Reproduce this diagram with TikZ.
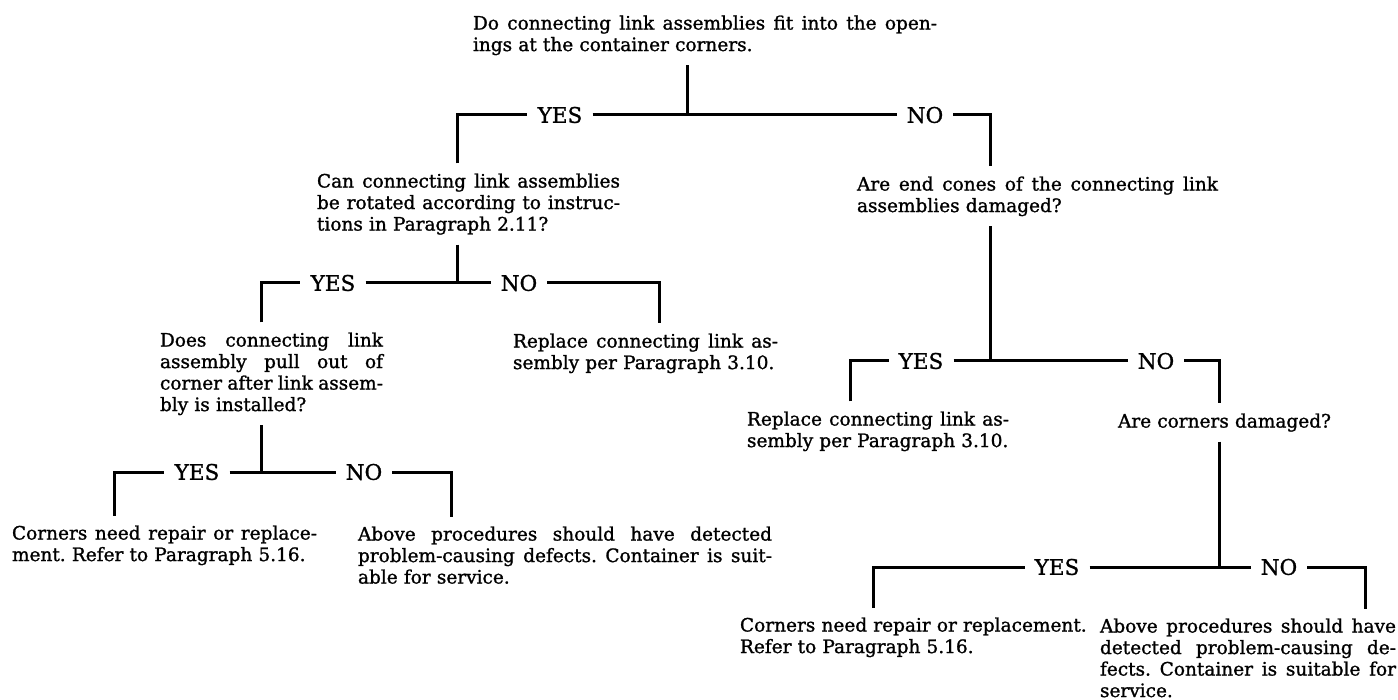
\documentclass[tikz,border=0pt]{standalone}
\usepackage{fontspec}
\setmainfont{DejaVu Serif}[RawFeature={embolden=1.2}]
\frenchspacing

% one justified line of a text block, #1 = width of the block
\newcommand*{\jl}[2]{{\spaceskip=0pt\xspaceskip=0pt\makebox[#1][s]{#2}}}

\begin{document}
\begin{tikzpicture}
[
	x=1pt,
	y=-1pt,
	txt/.style={anchor=north west,inner sep=0pt,outer xsep=0pt,outer ysep=10pt,align=left,font=\fontsize{18.5}{21.5}\selectfont},
	lbl/.style={inner xsep=10pt,inner ysep=0pt,font=\fontsize{21.5}{24}\selectfont},
	wire/.style={line width=3pt}
]

	\path[use as bounding box,fill=white] (0,0) rectangle (1398,700);

	% questions
	\node[txt,text width=470pt] (q0) at (473,5.5)
	  {\jl{464pt}{Do connecting link assemblies fit into the open-}\\ings at the container corners.};
	\node[txt,text width=310pt] (q1) at (317,163.5)
	  {\jl{303pt}{Can connecting link assemblies}\\\jl{303pt}{be rotated according to instruc-}\\tions in Paragraph 2.11?};
	\node[txt,text width=370pt] (q2) at (857,166.5)
	  {\jl{361pt}{Are end cones of the connecting link}\\assemblies damaged?};
	\node[txt,text width=230pt] (q3) at (160,322.5)
	  {\jl{223pt}{Does connecting link}\\\jl{223pt}{assembly pull out of}\\\jl{223pt}{corner after link assem-}\\bly is installed?};
	\node[txt,text width=240pt] (q4) at (1118,403.5) {Are corners damaged?};

	% answers
	\node[txt,text width=275pt] (a1) at (513,323.5)
	  {\jl{265pt}{Replace connecting link as-}\\sembly per Paragraph 3.10.};
	\node[txt,text width=275pt] (a2) at (747,401.5)
	  {\jl{262pt}{Replace connecting link as-}\\sembly per Paragraph 3.10.};
	\node[txt,text width=315pt] (a3) at (12,515.5)
	  {\jl{305pt}{Corners need repair or replace-}\\ment. Refer to Paragraph 5.16.};
	\node[txt,text width=425pt] (a4) at (358,516.5)
	  {\jl{414pt}{Above procedures should have detected}\\\jl{414pt}{problem-causing defects. Container is suit-}\\able for service.};
	\node[txt,text width=360pt] (a5) at (740,607.5)
	  {Corners need repair or replacement.\\Refer to Paragraph 5.16.};
	\node[txt,text width=300pt] (a6) at (1100,608.5)
	  {\jl{296pt}{Above procedures should have}\\\jl{296pt}{detected problem-causing de-}\\\jl{296pt}{fects. Container is suitable for}\\service.};

	% branch points
	\coordinate (j0) at (687,115);
	\coordinate (l0) at (457,115);
	\coordinate (r0) at (990,115);
	\coordinate (j1) at (457,283);
	\coordinate (l1) at (261,283);
	\coordinate (r1) at (659,283);
	\coordinate (j2) at (261,472);
	\coordinate (l2) at (114,472);
	\coordinate (r2) at (451,472);
	\coordinate (j3) at (990,361);
	\coordinate (l3) at (850,361);
	\coordinate (r3) at (1219,361);
	\coordinate (j4) at (1219,567);
	\coordinate (l4) at (873,567);
	\coordinate (r4) at (1365,567);

	% yes / no labels
	\node[lbl] (y0) at (560,115) {YES};
	\node[lbl] (n0) at (925,115) {NO};
	\node[lbl] (y1) at (333,283) {YES};
	\node[lbl] (n1) at (519,283) {NO};
	\node[lbl] (y2) at (197,472) {YES};
	\node[lbl] (n2) at (364,472) {NO};
	\node[lbl] (y3) at (921,361) {YES};
	\node[lbl] (n3) at (1156,361) {NO};
	\node[lbl] (y4) at (1057,567) {YES};
	\node[lbl] (n4) at (1279,567) {NO};

	% connectors
	\draw[wire] (q0.south -| j0) -- (j0);
	\draw[wire] (q1.north -| l0) -- (l0) -- (y0.west);
	\draw[wire] (y0.east) -- (n0.west);
	\draw[wire] (n0.east) -- (r0) -- (q2.north -| r0);

	\draw[wire] (q1.south -| j1) -- (j1);
	\draw[wire] (q3.north -| l1) -- (l1) -- (y1.west);
	\draw[wire] (y1.east) -- (n1.west);
	\draw[wire] (n1.east) -- (r1) -- (a1.north -| r1);

	\draw[wire] (q3.south -| j2) -- (j2);
	\draw[wire] (a3.north -| l2) -- (l2) -- (y2.west);
	\draw[wire] (y2.east) -- (n2.west);
	\draw[wire] (n2.east) -- (r2) -- (a4.north -| r2);

	\draw[wire] (q2.south -| j3) -- (j3);
	\draw[wire] (a2.north -| l3) -- (l3) -- (y3.west);
	\draw[wire] (y3.east) -- (n3.west);
	\draw[wire] (n3.east) -- (r3) -- (q4.north -| r3);

	\draw[wire] (q4.south -| j4) -- (j4);
	\draw[wire] (a5.north -| l4) -- (l4) -- (y4.west);
	\draw[wire] (y4.east) -- (n4.west);
	\draw[wire] (n4.east) -- (r4) -- (a6.north -| r4);

\end{tikzpicture}
\end{document}
